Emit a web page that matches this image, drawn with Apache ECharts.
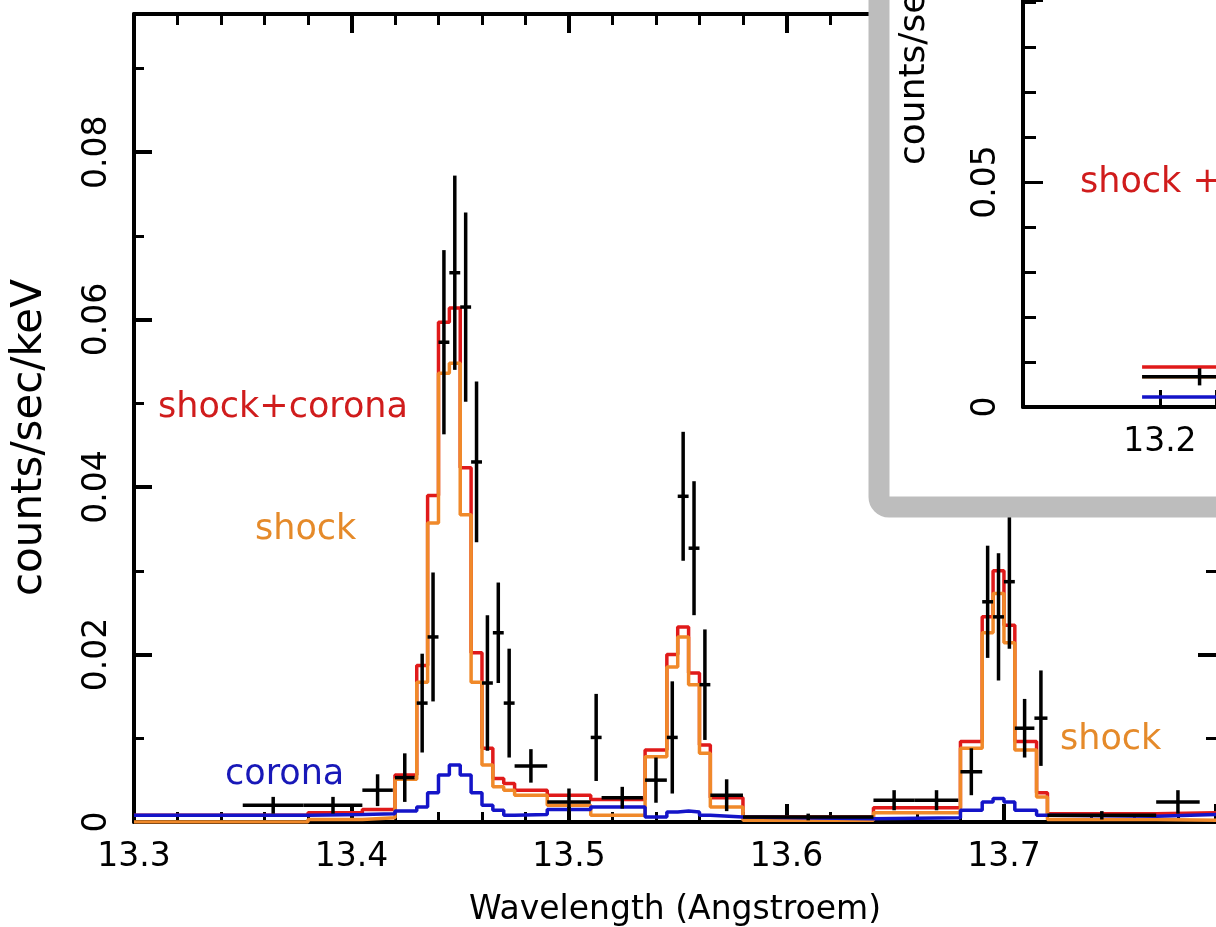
<!DOCTYPE html>
<html>
<head>
<meta charset="utf-8">
<script src="https://cdn.jsdelivr.net/npm/echarts@6/dist/echarts.min.js"></script>
<style>
html, body { margin: 0; padding: 0; background: #fff; }
#main { width: 1216px; height: 927px; }
</style>
</head>
<body>
<div id="main"></div>
<script>
// model bin edges (Angstroem) and model values per bin (counts/sec/keV)
var binEdges = [13.30, 13.38, 13.405, 13.42, 13.43, 13.435, 13.44, 13.445, 13.45, 13.455, 13.46, 13.465, 13.47, 13.475, 13.49, 13.51,
                13.535, 13.545, 13.55, 13.555, 13.56, 13.565, 13.58, 13.64, 13.68, 13.69, 13.695, 13.70, 13.705, 13.715, 13.72, 13.77, 13.80];
var shockCorona = [0.0008, 0.0011, 0.0015, 0.0056, 0.0187, 0.0390, 0.0597, 0.0614, 0.0423, 0.0202, 0.0088, 0.0052, 0.0046, 0.0038, 0.0032,
                   0.0027, 0.0086, 0.0200, 0.0233, 0.0178, 0.0092, 0.0029, 0.0006, 0.0017, 0.0096, 0.0245, 0.0300, 0.0235, 0.0096, 0.0035, 0.0010, 0.0011];
var shock = [0.0000, 0.0003, 0.0005, 0.0051, 0.0167, 0.0357, 0.0536, 0.0548, 0.0367, 0.0167, 0.0068, 0.0042, 0.0038, 0.0032, 0.0020,
             0.0008, 0.0078, 0.0185, 0.0221, 0.0164, 0.0082, 0.0018, 0.0002, 0.0011, 0.0088, 0.0226, 0.0273, 0.0214, 0.0086, 0.0030, 0.0003, 0.0002];
var corona = [0.0008, 0.0009, 0.0010, 0.0013, 0.0018, 0.0035, 0.0056, 0.0068, 0.0056, 0.0035, 0.0020, 0.0014, 0.0008, 0.0009, 0.0015,
              0.0018, 0.0006, 0.0012, 0.0013, 0.0012, 0.0008, 0.0006, 0.0004, 0.0005, 0.0014, 0.0024, 0.0028, 0.0024, 0.0014, 0.0008, 0.0007, 0.0009];

// measured spectrum: bin low / high edge, value, 1 sigma error
var dataLo  = [13.350, 13.378, 13.405, 13.420, 13.430, 13.435, 13.440, 13.445, 13.450, 13.455, 13.460, 13.465, 13.470, 13.475, 13.490, 13.510, 13.515,
               13.535, 13.545, 13.550, 13.555, 13.560, 13.565, 13.580, 13.640, 13.659, 13.680, 13.690, 13.695, 13.700, 13.705, 13.714, 13.720, 13.770];
var dataHi  = [13.378, 13.405, 13.419, 13.429, 13.435, 13.440, 13.445, 13.450, 13.455, 13.460, 13.465, 13.470, 13.475, 13.490, 13.510, 13.515, 13.534,
               13.545, 13.550, 13.555, 13.560, 13.565, 13.580, 13.640, 13.659, 13.679, 13.690, 13.695, 13.700, 13.705, 13.714, 13.720, 13.770, 13.790];
var dataVal = [0.0020, 0.0020, 0.0038, 0.0053, 0.0142, 0.0221, 0.0573, 0.0656, 0.0615, 0.0430, 0.0166, 0.0226, 0.0142, 0.0067, 0.0024, 0.0101, 0.0029,
               0.0050, 0.0101, 0.0389, 0.0327, 0.0164, 0.0032, 0.0006, 0.0026, 0.0026, 0.0060, 0.0263, 0.0245, 0.0287, 0.0112, 0.0124, 0.0008, 0.0024];
var dataErr = [0.0010, 0.0010, 0.0019, 0.0029, 0.0059, 0.0077, 0.0110, 0.0116, 0.0113, 0.0096, 0.0081, 0.0060, 0.0065, 0.0020, 0.0016, 0.0052, 0.0013,
               0.0027, 0.0067, 0.0077, 0.0080, 0.0066, 0.0019, 0.0004, 0.0012, 0.0012, 0.0028, 0.0067, 0.0076, 0.0080, 0.0035, 0.0057, 0.0005, 0.0014];

var xTickLabels = ['13.3', '13.4', '13.5', '13.6', '13.7'];
var yTickLabels = ['0', '0.02', '0.04', '0.06', '0.08'];

// inset (wider view, only its lower left corner is in the picture)
var insetEdges = [13.187, 13.45];
var insetShockCorona = [0.0089];
var insetShock = [0.0067];
var insetCorona = [0.0022];
var insetDataLo = [13.187];
var insetDataHi = [13.271];
var insetDataVal = [0.0067];
var insetDataErr = [0.0019];
var insetXTickLabels = ['13.2'];
var insetYTickLabels = ['0', '0.05'];

var FONT = '"DejaVu Sans", sans-serif';

function steps(edges, vals) {
  var pts = [];
  for (var i = 0; i < vals.length; i++) {
    pts.push([edges[i], vals[i]], [edges[i + 1], vals[i]]);
  }
  return pts;
}

function rows(lo, hi, val, err) {
  var out = [];
  for (var i = 0; i < lo.length; i++) out.push([lo[i], hi[i], val[i], err[i]]);
  return out;
}

function renderCross(params, api) {
  var lo = api.value(0), hi = api.value(1), v = api.value(2), e = api.value(3);
  var c = (lo + hi) / 2;
  var a = api.coord([lo, v]), b = api.coord([hi, v]);
  var t = api.coord([c, v + e]), d = api.coord([c, v - e]);
  var st = { stroke: '#000', lineWidth: 3.5 };
  return {
    type: 'group',
    children: [
      { type: 'line', shape: { x1: a[0], y1: a[1], x2: b[0], y2: b[1] }, style: st },
      { type: 'line', shape: { x1: t[0], y1: t[1], x2: d[0], y2: d[1] }, style: st }
    ]
  };
}

function pick(list) {
  return function (v) {
    var s = String(Math.round(v * 1000) / 1000);
    return list.indexOf(s) >= 0 ? s : '';
  };
}

var blackLine = { color: '#000', width: 4 };
var lblStyle = { color: '#000', fontSize: 33, fontFamily: FONT };

var myChart = echarts.init(document.getElementById('main'));

var option = {
  backgroundColor: '#fff',
  animation: false,
  grid: [
    { left: 134, top: 14, right: 0, bottom: 105, outerBoundsMode: 'none', containLabel: false },
    { left: 1023, top: 0, right: 0, bottom: 520, outerBoundsMode: 'none', containLabel: false }
  ],
  xAxis: [
    {
      gridIndex: 0, type: 'value', min: 13.3, max: 13.7975, interval: 0.1, position: 'bottom',
      axisLine: { onZero: false, lineStyle: blackLine },
      axisTick: { inside: true, length: 18, lineStyle: blackLine },
      minorTick: { show: true, splitNumber: 5, length: 10, lineStyle: { color: '#000', width: 3 } },
      splitLine: { show: false },
      axisLabel: Object.assign({ margin: 19, formatter: pick(xTickLabels) }, lblStyle),
      name: 'Wavelength (Angstroem)', nameLocation: 'middle', nameGap: 72,
      nameTextStyle: { color: '#000', fontSize: 33, fontFamily: FONT }
    },
    {
      gridIndex: 0, type: 'value', min: 13.3, max: 13.7975, interval: 0.1, position: 'top',
      axisLine: { onZero: false, lineStyle: blackLine },
      axisTick: { inside: true, length: 19, lineStyle: blackLine },
      minorTick: { show: true, splitNumber: 5, length: 11, lineStyle: { color: '#000', width: 3 } },
      splitLine: { show: false },
      axisLabel: { show: false }
    },
    {
      gridIndex: 1, type: 'value', min: 13.1, max: 13.241, interval: 0.1, position: 'bottom', z: 20,
      axisLine: { onZero: false, lineStyle: blackLine },
      axisTick: { inside: true, length: 17, lineStyle: { color: '#000', width: 3 } },
      splitLine: { show: false },
      axisLabel: Object.assign({ margin: 19, formatter: pick(insetXTickLabels) }, lblStyle)
    }
  ],
  yAxis: [
    {
      gridIndex: 0, type: 'value', min: 0, max: 0.0965, interval: 0.02, position: 'left',
      axisLine: { onZero: false, lineStyle: blackLine },
      axisTick: { inside: true, length: 18, lineStyle: blackLine },
      minorTick: { show: true, splitNumber: 2, length: 10, lineStyle: { color: '#000', width: 3 } },
      splitLine: { show: false },
      axisLabel: Object.assign({ rotate: 90, margin: 20, formatter: pick(yTickLabels) }, lblStyle)
    },
    {
      gridIndex: 0, type: 'value', min: 0, max: 0.0965, interval: 0.02, position: 'right',
      axisLine: { show: false },
      axisTick: { inside: true, length: 18, lineStyle: blackLine },
      minorTick: { show: true, splitNumber: 2, length: 10, lineStyle: { color: '#000', width: 3 } },
      splitLine: { show: false },
      axisLabel: { show: false }
    },
    {
      gridIndex: 1, type: 'value', min: 0, max: 0.0904, interval: 0.05, position: 'left', z: 20,
      axisLine: { onZero: false, lineStyle: blackLine },
      axisTick: { inside: true, length: 20, lineStyle: { color: '#000', width: 3 } },
      minorTick: { show: true, splitNumber: 5, length: 13, lineStyle: { color: '#000', width: 3 } },
      splitLine: { show: false },
      axisLabel: Object.assign({ rotate: 90, margin: 20, formatter: pick(insetYTickLabels) }, lblStyle)
    }
  ],
  graphic: [
    { type: 'rect', z: 10, shape: { x: 879, y: -60, width: 600, height: 567, r: 10 },
      style: { fill: '#fff', stroke: '#bdbdbd', lineWidth: 21 } },
    { type: 'text', z: 6, x: 30, y: 596, rotation: Math.PI / 2,
      style: { text: 'counts/sec/keV', fill: '#000', font: '42px ' + FONT, align: 'left', verticalAlign: 'middle' } },
    { type: 'text', z: 25, x: 915, y: 165, rotation: Math.PI / 2,
      style: { text: 'counts/sec/keV', fill: '#000', font: '36px ' + FONT, align: 'left', verticalAlign: 'middle' } },
    { type: 'text', z: 6, x: 158, y: 408, style: { text: 'shock+corona', fill: '#d01c1c', font: '35px ' + FONT, verticalAlign: 'middle' } },
    { type: 'text', z: 6, x: 255, y: 530, style: { text: 'shock', fill: '#e58a2a', font: '35px ' + FONT, verticalAlign: 'middle' } },
    { type: 'text', z: 6, x: 225, y: 775, style: { text: 'corona', fill: '#1818b8', font: '35px ' + FONT, verticalAlign: 'middle' } },
    { type: 'text', z: 6, x: 1060, y: 740, style: { text: 'shock', fill: '#e58a2a', font: '35px ' + FONT, verticalAlign: 'middle' } },
    { type: 'text', z: 25, x: 1080, y: 183, style: { text: 'shock + corona', fill: '#d01c1c', font: '35px ' + FONT, verticalAlign: 'middle' } }
  ],
  series: [
    { name: 'shock+corona', type: 'line', xAxisIndex: 0, yAxisIndex: 0, z: 2, symbol: 'none',
      lineStyle: { color: '#e01a1a', width: 3.5 }, data: steps(binEdges, shockCorona) },
    { name: 'shock', type: 'line', xAxisIndex: 0, yAxisIndex: 0, z: 3, symbol: 'none',
      lineStyle: { color: '#f0892a', width: 3.5 }, data: steps(binEdges, shock) },
    { name: 'corona', type: 'line', xAxisIndex: 0, yAxisIndex: 0, z: 4, symbol: 'none',
      lineStyle: { color: '#1414c8', width: 3.5 }, data: steps(binEdges, corona) },
    { name: 'data', type: 'custom', xAxisIndex: 0, yAxisIndex: 0, z: 5, clip: true,
      renderItem: renderCross, encode: { x: [0, 1], y: [2] },
      data: rows(dataLo, dataHi, dataVal, dataErr) },

    { name: 'inset shock+corona', type: 'line', xAxisIndex: 2, yAxisIndex: 2, z: 20, symbol: 'none',
      lineStyle: { color: '#e01a1a', width: 3.5 }, data: steps(insetEdges, insetShockCorona) },
    { name: 'inset shock', type: 'line', xAxisIndex: 2, yAxisIndex: 2, z: 21, symbol: 'none',
      lineStyle: { color: '#f0892a', width: 3.5 }, data: steps(insetEdges, insetShock) },
    { name: 'inset corona', type: 'line', xAxisIndex: 2, yAxisIndex: 2, z: 22, symbol: 'none',
      lineStyle: { color: '#1414c8', width: 3.5 }, data: steps(insetEdges, insetCorona) },
    { name: 'inset data', type: 'custom', xAxisIndex: 2, yAxisIndex: 2, z: 23, clip: true,
      renderItem: renderCross, encode: { x: [0, 1], y: [2] },
      data: rows(insetDataLo, insetDataHi, insetDataVal, insetDataErr) }
  ]
};

myChart.setOption(option);
</script>
</body>
</html>
